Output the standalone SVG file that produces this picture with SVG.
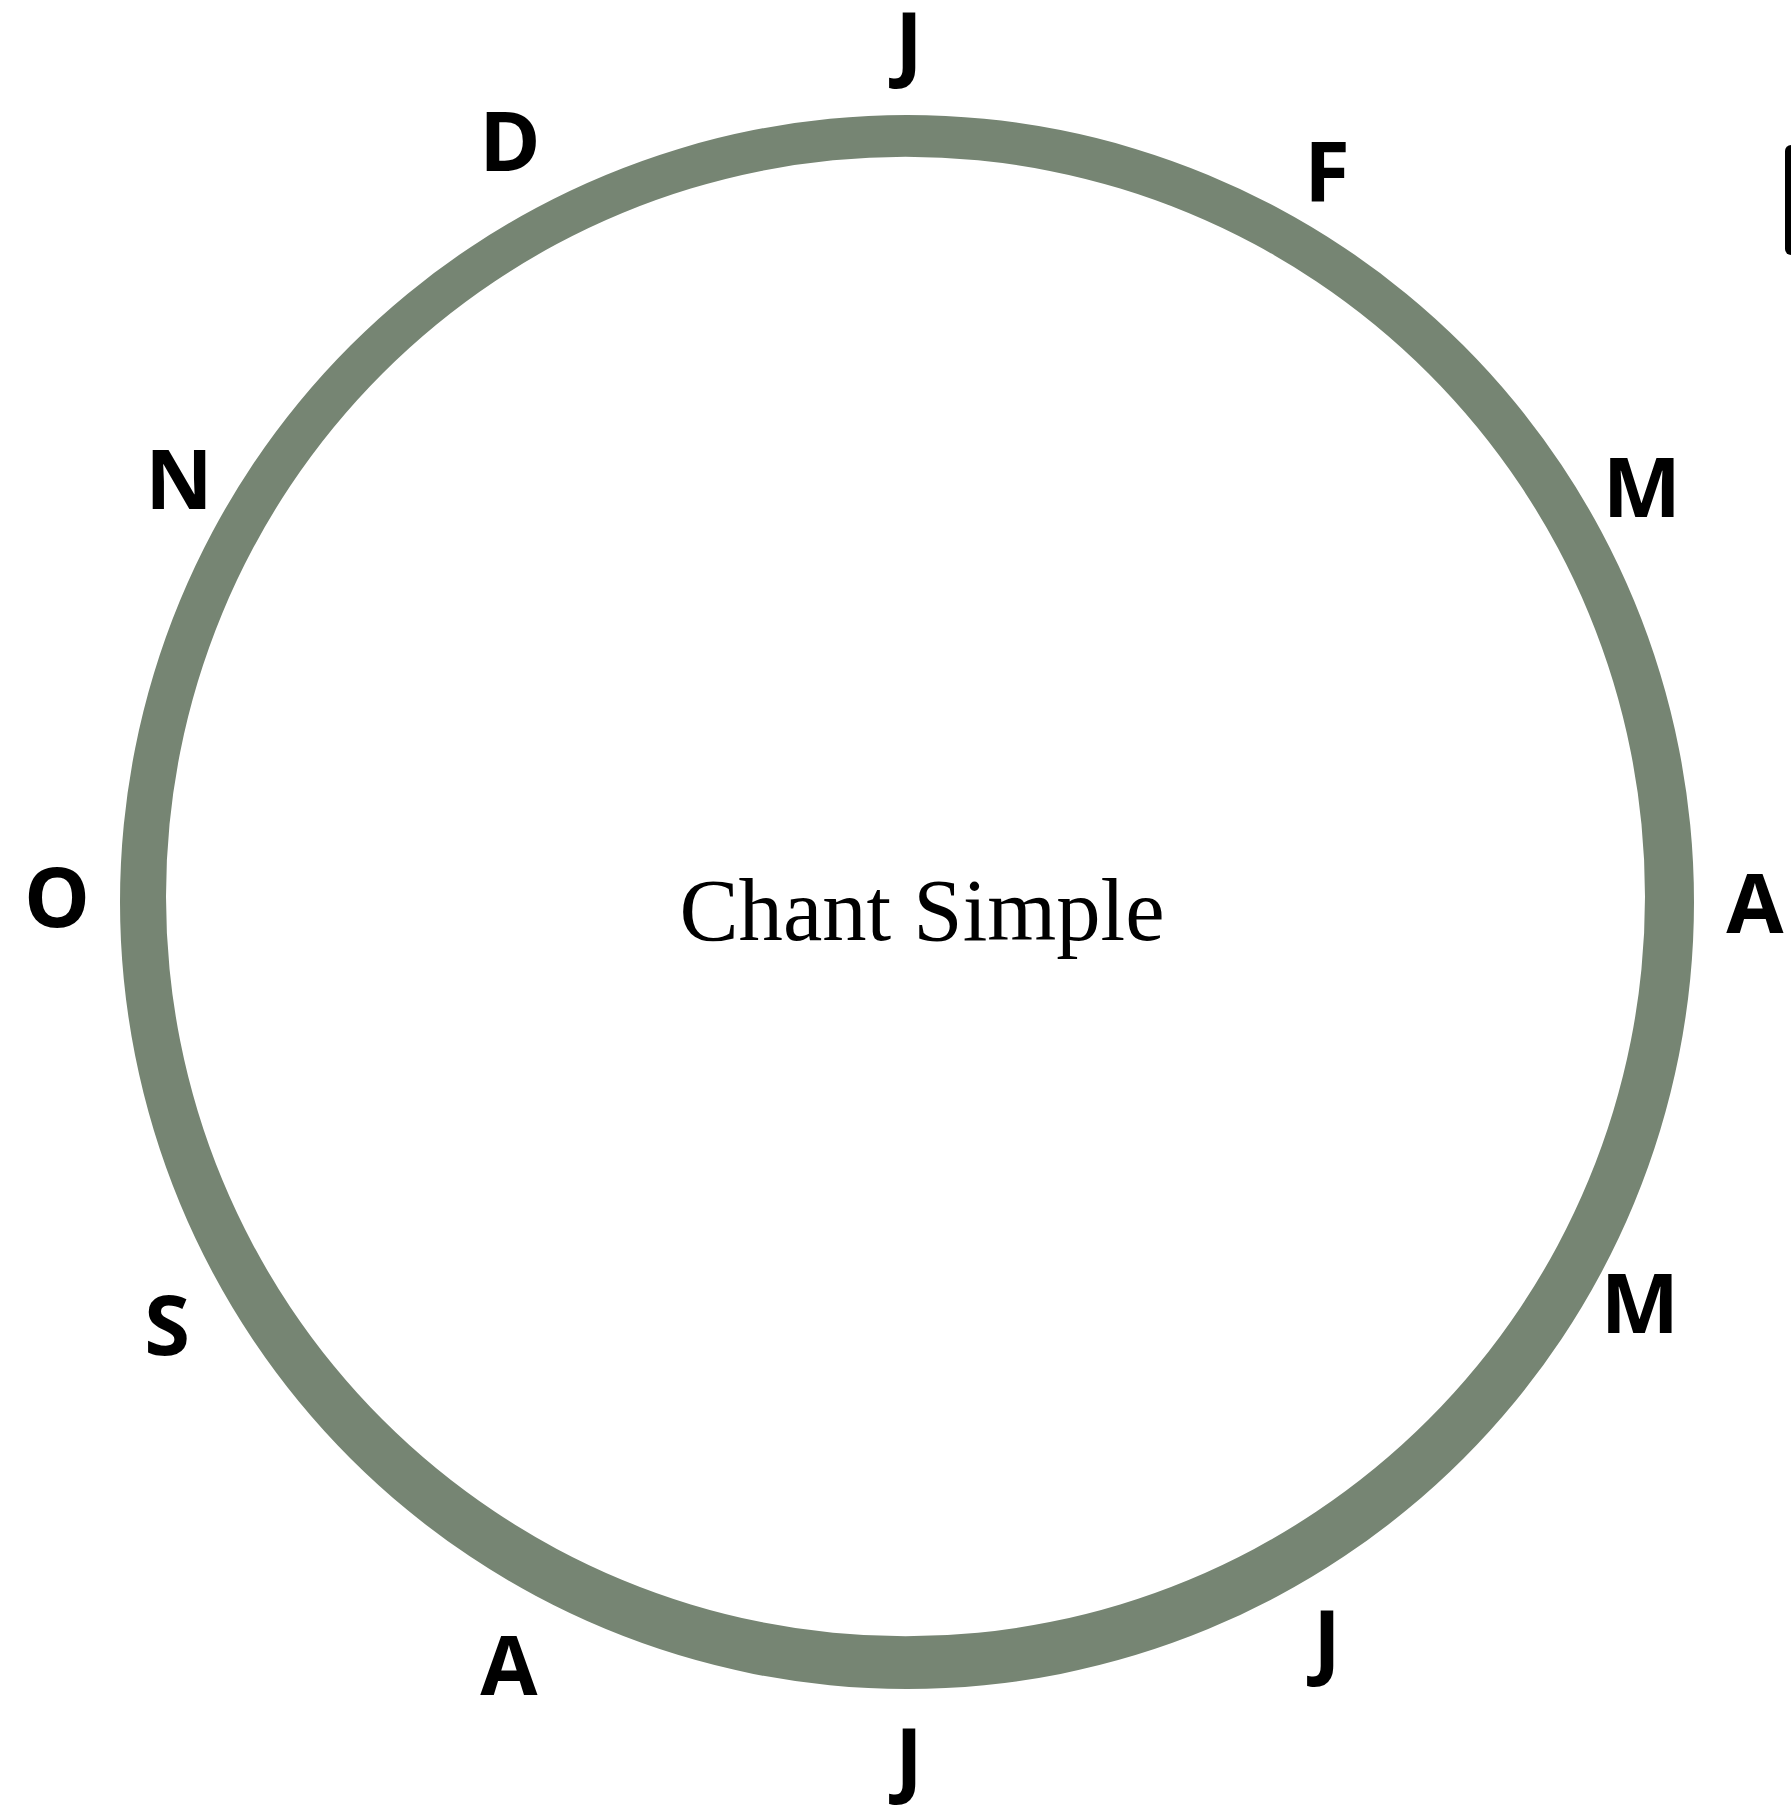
<svg xmlns="http://www.w3.org/2000/svg" width="1791" height="1805" viewBox="0 0 1791 1805">
  <style>
    .m { font-family: "Open Sans", "Liberation Sans", sans-serif; font-weight: 700; font-size: 83px; fill: #000; text-anchor: middle; }
    .t { font-family: "Liberation Serif", "DejaVu Serif", serif; font-size: 89px; fill: #000; text-anchor: middle; }
  </style>
  <rect width="1791" height="1805" fill="#fff"/>
  <g id="ring">
    <path fill="#768573" fill-rule="evenodd" d="M 120 902 A 787 787 0 1 0 1694 902 A 787 787 0 1 0 120 902 Z M 166 896.5 A 739.5 739.5 0 1 0 1645 896.5 A 739.5 739.5 0 1 0 166 896.5 Z"/>
  </g>
  <g id="center"><text class="t" x="922" y="940" textLength="485" lengthAdjust="spacingAndGlyphs">Chant Simple</text></g>
  <g id="months">
    <g id="m-jan-top"><text class="m" x="909" y="72">J</text></g>
    <g id="m-feb"><text class="m" x="1327" y="201">F</text></g>
    <g id="m-mar"><text class="m" x="1642" y="517">M</text></g>
    <g id="m-apr"><text class="m" x="1755" y="933">A</text></g>
    <g id="m-may"><text class="m" x="1640" y="1333">M</text></g>
    <g id="m-jun"><text class="m" x="1327" y="1670">J</text></g>
    <g id="m-jul"><text class="m" x="909" y="1788">J</text></g>
    <g id="m-aug"><text class="m" x="509" y="1695">A</text></g>
    <g id="m-sep"><text class="m" x="167" y="1355">S</text></g>
    <g id="m-oct"><text class="m" x="57" y="927">O</text></g>
    <g id="m-nov"><text class="m" x="179" y="509">N</text></g>
    <g id="m-dec"><text class="m" x="510" y="171">D</text></g>
  </g>
  <g id="edge-mark"><rect x="1785" y="145" width="30" height="110" rx="6" fill="#000"/></g>
  <g id="connectors"/>
</svg>
